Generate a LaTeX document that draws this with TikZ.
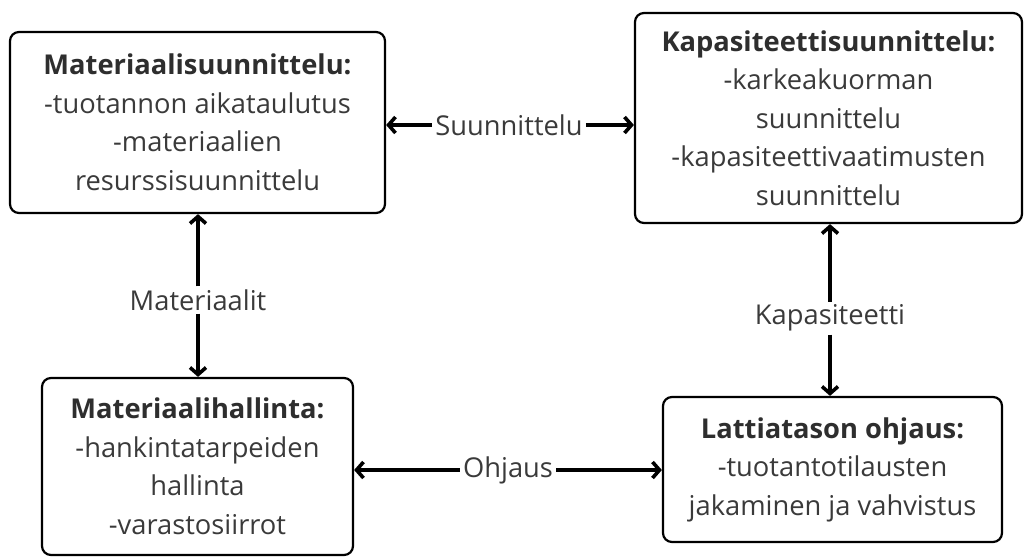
\documentclass[tikz,border=0pt]{standalone}
\usepackage{fontspec}
\setmainfont{Open Sans}
\usetikzlibrary{arrows.meta}
\definecolor{txt}{HTML}{3A3A3A}
\definecolor{ttl}{HTML}{2E2E2E}
\begin{document}
\begin{tikzpicture}[x=1pt,y=-1pt,
  box/.style={draw=black,line width=2.2pt,rounded corners=9pt,fill=white,
    align=center,text=txt,inner sep=0pt,
    font=\fontsize{27.3}{38.5}\selectfont},
  lbl/.style={text=txt,inner sep=3pt,font=\fontsize{27.3}{30}\selectfont},
  link/.style={line width=3.6pt,-{Straight Barb[length=7pt,width=16pt,line width=3.6pt]}}
]
\useasboundingbox (0,0) rectangle (1024,557);
% boxes
\node[box,minimum width=375pt,minimum height=181pt] (mat) at (197.5,122.5)
  {\textbf{\color{ttl}Materiaalisuunnittelu:}\\-tuotannon aikataulutus\\-materiaalien\\resurssisuunnittelu};
\node[box,minimum width=387pt,minimum height=210pt] (kap) at (828.5,118)
  {\textbf{\color{ttl}Kapasiteettisuunnittelu:}\\-karkeakuorman\\suunnittelu\\-kapasiteettivaatimusten\\suunnittelu};
\node[box,minimum width=311pt,minimum height=177pt] (hal) at (197.5,466.5)
  {\textbf{\color{ttl}Materiaalihallinta:}\\-hankintatarpeiden\\hallinta\\-varastosiirrot};
\node[box,minimum width=339pt,minimum height=145pt] (lat) at (832.5,469.5)
  {\textbf{\color{ttl}Lattiatason ohjaus:}\\-tuotantotilausten\\jakaminen ja vahvistus};
% connector labels
\node[lbl] (suu) at (509,125) {Suunnittelu};
\node[lbl] (ohj) at (508,470) {Ohjaus};
\node[lbl] (mtl) at (198,300) {Materiaalit};
\node[lbl] (cap) at (830,318) {Kapasiteetti};
% connectors
\draw[link] (suu.west) -- (suu.west -| mat.east);
\draw[link] (suu.east) -- (suu.east -| kap.west);
\draw[link] (ohj.west) -- (ohj.west -| hal.east);
\draw[link] (ohj.east) -- (ohj.east -| lat.west);
\draw[link] (mtl.north) -- (mtl.north |- mat.south);
\draw[link] (mtl.south) -- (mtl.south |- hal.north);
\draw[link] (cap.north) -- (cap.north |- kap.south);
\draw[link] (cap.south) -- (cap.south |- lat.north);
\end{tikzpicture}
\end{document}
